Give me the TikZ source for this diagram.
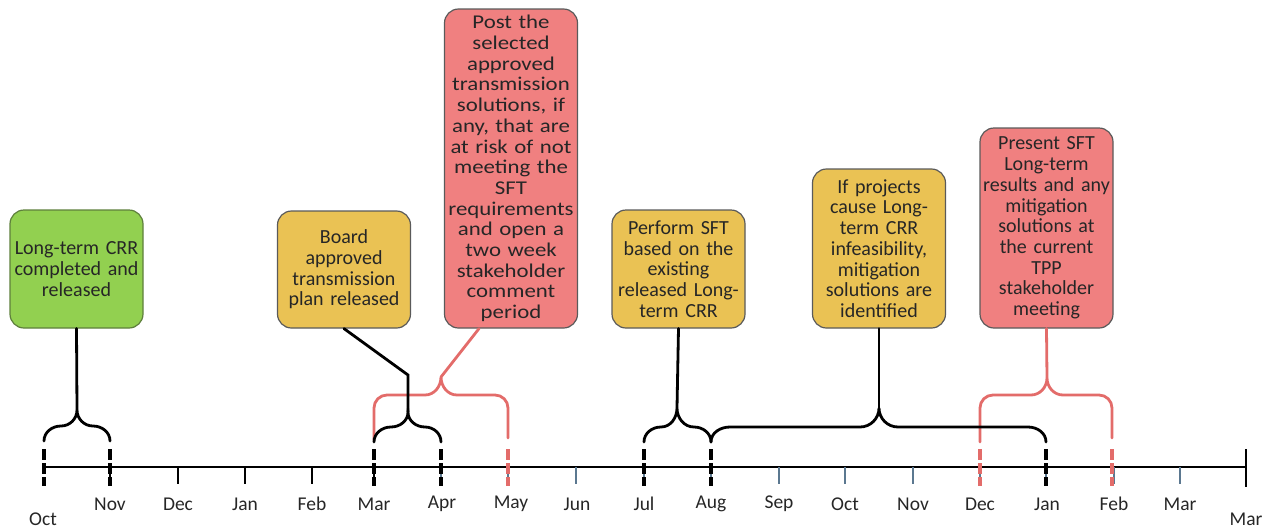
\documentclass[tikz,border=0pt]{standalone}
\usepackage{fontspec}
\setmainfont{Carlito}
\newfontfamily\widefont[FakeStretch=1.17]{Carlito}
\definecolor{grnfill}{HTML}{92D050}
\definecolor{grnline}{HTML}{5E7F3C}
\definecolor{ylwfill}{HTML}{EAC254}
\definecolor{redfill}{HTML}{F08080}
\definecolor{boxline}{HTML}{5A5A5A}
\definecolor{redline}{HTML}{E36C6A}
\definecolor{slate}{HTML}{5B7890}
\definecolor{txt}{HTML}{262626}

\begin{document}
\begin{tikzpicture}[x=1pt, y=-1pt,
    box/.style={draw=boxline, line width=1.2pt, rounded corners=14pt, align=center,
      text=txt, inner sep=1pt, minimum width=133pt, text width=131pt,
      font=\fontsize{20}{20.7}\selectfont},
    month/.style={text=txt, font=\fontsize{19.5}{20}\selectfont},
    link/.style={line width=2.8pt, line cap=round},
    leg/.style={line width=3.5pt, dash pattern=on 11pt off 3pt},
    tick/.style={line width=2.5pt}]

    \useasboundingbox (0, 0) rectangle (1270, 531);

    % boxes
    \node[box, fill=grnfill, draw=grnline, minimum height=118pt] (b0) at (76.5, 269)
      {Long-term CRR\\completed and\\released};
    \node[box, fill=ylwfill, minimum height=117pt] (b1) at (344, 269.5)
      {Board\\approved\\transmission\\plan released};
    \node[box, fill=redfill, minimum height=319pt,
      font=\widefont\fontsize{19.5}{20.7}\selectfont] (b2) at (511, 168.5)
      {Post the\\selected\\approved\\transmission\\solutions, if\\any, that are\\at risk of not\\meeting the\\SFT\\requirements\\and open a\\two week\\stakeholder\\comment\\period};
    \node[box, fill=ylwfill, minimum height=118pt] (b3) at (678.5, 269)
      {Perform SFT\\based on the\\existing\\released Long-\\term CRR};
    \node[box, fill=ylwfill, minimum height=159pt] (b4) at (879, 248.5)
      {If projects\\cause Long-\\term CRR\\infeasibility,\\mitigation\\solutions are\\identified};
    \node[box, fill=redfill, minimum height=200pt] (b5) at (1046.5, 228)
      {Present SFT\\Long-term\\results and any\\mitigation\\solutions at\\the current\\TPP\\stakeholder\\meeting};

    % axis
    \coordinate (ax0) at (44, 467);
    \coordinate (ax1) at (1246, 467);
    \path[draw, line width=2.5pt] (ax0) -- (ax1);
    \path[draw, tick] (1246, 449) -- (1246, 487);

    \path[draw, tick] (110, 467) -- (110, 484);
    \path[draw, tick] (178, 467) -- (178, 484);
    \path[draw, tick] (245, 467) -- (245, 484);
    \path[draw, tick] (312, 467) -- (312, 484);
    \path[draw, tick] (374, 467) -- (374, 484);
    \path[draw, tick, slate] (441, 467) -- (441, 484);
    \path[draw, tick, slate] (508, 467) -- (508, 484);
    \path[draw, tick, slate] (576, 467) -- (576, 484);
    \path[draw, tick, slate] (644, 467) -- (644, 484);
    \path[draw, tick, slate] (711, 467) -- (711, 484);
    \path[draw, tick, slate] (779, 467) -- (779, 484);
    \path[draw, tick, slate] (845, 467) -- (845, 484);
    \path[draw, tick, slate] (913, 467) -- (913, 484);
    \path[draw, tick, slate] (980, 467) -- (980, 484);
    \path[draw, tick, slate] (1046, 467) -- (1046, 484);
    \path[draw, tick, slate] (1114, 467) -- (1114, 484);
    \path[draw, tick, slate] (1180, 467) -- (1180, 484);

    % month labels
    \node[month] (l0) at (43, 519) {Oct};
    \node[month] (l1) at (110, 504) {Nov};
    \node[month] (l2) at (178, 504) {Dec};
    \node[month] (l3) at (245, 504) {Jan};
    \node[month] (l4) at (312, 504) {Feb};
    \node[month] (l5) at (374, 504) {Mar};
    \node[month] (l6) at (442, 504) {Apr};
    \node[month] (l7) at (511, 504) {May};
    \node[month] (l8) at (577, 504) {Jun};
    \node[month] (l9) at (644, 504) {Jul};
    \node[month] (l10) at (711, 504) {Aug};
    \node[month] (l11) at (779, 504) {Sep};
    \node[month] (l12) at (845, 504) {Oct};
    \node[month] (l13) at (913, 504) {Nov};
    \node[month] (l14) at (980, 504) {Dec};
    \node[month] (l15) at (1047, 504) {Jan};
    \node[month] (l16) at (1114, 504) {Feb};
    \node[month] (l17) at (1180, 504) {Mar};
    \node[month] (l18) at (1246, 519) {Mar};

    % brace tips
    \coordinate (t0) at (77, 410);
    \coordinate (t1) at (408, 412);
    \coordinate (t2) at (441, 377);
    \coordinate (t3) at (677, 408);
    \coordinate (t4) at (879, 408);
    \coordinate (t5) at (1047, 378);

    % red braces
    \path[draw=redline, link] (374, 440) -- (374, 408) to[out=90, in=180] (387, 395) -- (425, 395)
      to[out=0, in=-90] (t2) to[out=-90, in=180] (457, 395) -- (495, 395)
      to[out=0, in=90] (508, 408) -- (508, 438);
    \path[draw=redline, link] (980, 442) -- (980, 408) to[out=90, in=180] (993, 395) -- (1031, 395)
      to[out=0, in=-90] (t5) to[out=-90, in=180] (1063, 395) -- (1099, 395)
      to[out=0, in=90] (1112, 408) -- (1112, 438);
    \path[draw=redline, link] ([xshift=-32pt]b2.south) -- (t2);
    \path[draw=redline, link] (b5.south) -- (t5);

    % black braces
    \path[draw, link] (44, 441) to[out=90, in=180] (61, 426) to[out=0, in=-90] (t0)
      to[out=-90, in=180] (93, 426) to[out=0, in=90] (110, 441);
    \path[draw, link] (374, 442) to[out=90, in=180] (391, 427) to[out=0, in=-90] (t1)
      to[out=-90, in=180] (425, 427) to[out=0, in=90] (441, 442);
    \path[draw, link] (644, 442) to[out=90, in=180] (661, 427) to[out=0, in=-90] (t3)
      to[out=-90, in=180] (694, 427) to[out=0, in=90] (711, 442);
    \path[draw, link] (711, 442) to[out=90, in=180] (730, 427) -- (860, 427) to[out=0, in=-90] (t4)
      to[out=-90, in=180] (898, 427) -- (1028, 427) to[out=0, in=90] (1046, 442);
    \path[draw, link] (b0.south) -- (t0);
    \path[draw, link] (b1.south) -- (408, 375) -- (t1);
    \path[draw, link] (b3.south) -- (t3);
    \path[draw, link] (b4.south) -- (t4);

    % dashed legs
    \path[draw, leg] (44, 449) -- (44, 486);
    \path[draw, leg] (110, 449) -- (110, 486);
    \path[draw, leg] (374, 449) -- (374, 486);
    \path[draw, leg] (441, 449) -- (441, 486);
    \path[draw=redline, leg] (508, 449) -- (508, 486);
    \path[draw, leg] (644, 449) -- (644, 486);
    \path[draw, leg] (711, 449) -- (711, 486);
    \path[draw=redline, leg] (980, 449) -- (980, 486);
    \path[draw, leg] (1046, 449) -- (1046, 486);
    \path[draw=redline, leg] (1112, 449) -- (1112, 486);

  \end{tikzpicture}
\end{document}
